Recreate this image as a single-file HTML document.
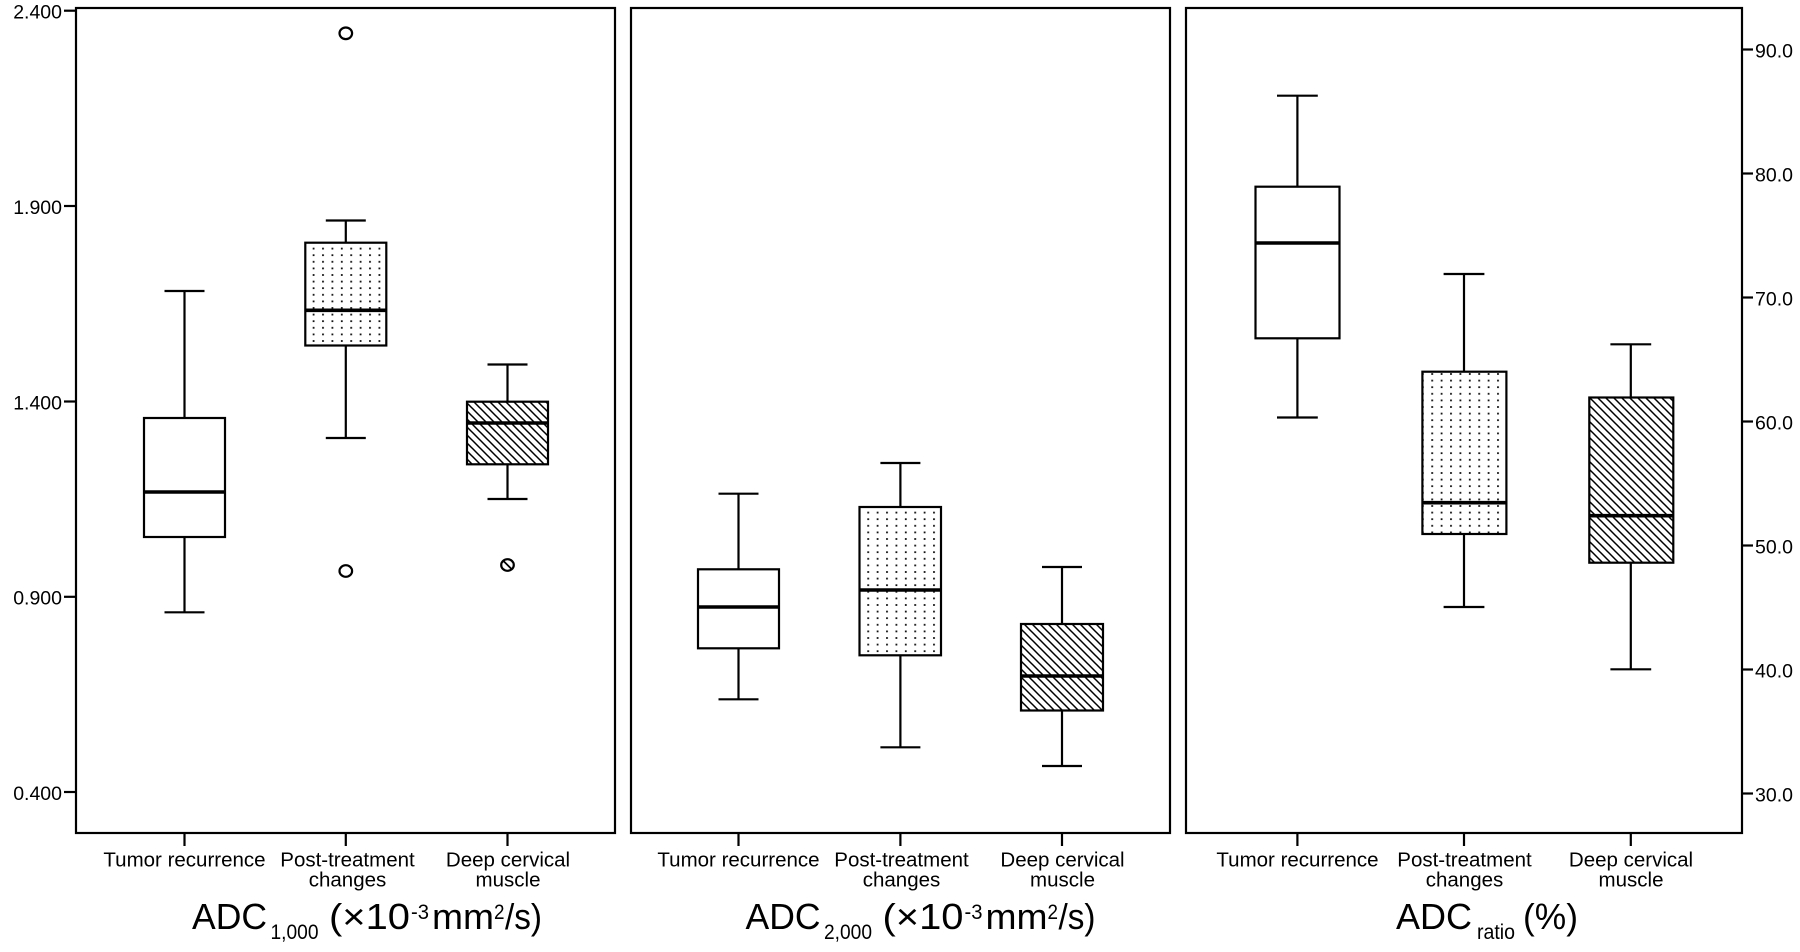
<!DOCTYPE html>
<html>
<head>
<meta charset="utf-8">
<style>
  html, body { margin: 0; padding: 0; background: #ffffff; }
  svg { display: block; }
  text { font-family: "Liberation Sans", Arial, sans-serif; fill: #000; }
</style>
</head>
<body>
<svg width="1800" height="952" viewBox="0 0 1800 952" xmlns="http://www.w3.org/2000/svg">
  <defs>
    <pattern id="dots" patternUnits="userSpaceOnUse" width="9.4" height="6.6" x="1" y="2">
      <rect x="1.5" y="1.5" width="1.8" height="1.8" fill="#111"/>
    </pattern>
    <pattern id="hatch" patternUnits="userSpaceOnUse" width="8" height="8">
      <path d="M-1,-1 L9,9 M-1,7 L1,9 M7,-1 L9,1" stroke="#000" stroke-width="1.5" fill="none"/>
    </pattern>
  </defs>
  <rect x="0" y="0" width="1800" height="952" fill="#fff"/>

  <g stroke="#000" stroke-width="2.2" fill="none">
    <!-- panel borders -->
    <rect x="76" y="8" width="539" height="825"/>
    <rect x="631" y="8" width="539" height="825"/>
    <rect x="1186" y="8" width="556" height="825"/>

    <!-- left ticks -->
    <line x1="64" y1="10.7" x2="76" y2="10.7"/>
    <line x1="64" y1="206" x2="76" y2="206"/>
    <line x1="64" y1="401.5" x2="76" y2="401.5"/>
    <line x1="64" y1="596.8" x2="76" y2="596.8"/>
    <line x1="64" y1="792" x2="76" y2="792"/>

    <!-- right ticks -->
    <line x1="1742" y1="49.5" x2="1753" y2="49.5"/>
    <line x1="1742" y1="173.5" x2="1753" y2="173.5"/>
    <line x1="1742" y1="297.5" x2="1753" y2="297.5"/>
    <line x1="1742" y1="421.5" x2="1753" y2="421.5"/>
    <line x1="1742" y1="545.5" x2="1753" y2="545.5"/>
    <line x1="1742" y1="669.5" x2="1753" y2="669.5"/>
    <line x1="1742" y1="793.5" x2="1753" y2="793.5"/>

    <!-- x ticks -->
    <line x1="184.5" y1="833" x2="184.5" y2="846"/>
    <line x1="345.8" y1="833" x2="345.8" y2="846"/>
    <line x1="507.5" y1="833" x2="507.5" y2="846"/>
    <line x1="738.5" y1="833" x2="738.5" y2="846"/>
    <line x1="900.4" y1="833" x2="900.4" y2="846"/>
    <line x1="1062" y1="833" x2="1062" y2="846"/>
    <line x1="1297.4" y1="833" x2="1297.4" y2="846"/>
    <line x1="1464" y1="833" x2="1464" y2="846"/>
    <line x1="1630.8" y1="833" x2="1630.8" y2="846"/>
  </g>

  <!-- ===== Panel 1 ===== -->
  <g stroke="#000" stroke-width="2.2" fill="none">
    <line x1="184.5" y1="291" x2="184.5" y2="418"/>
    <line x1="164.5" y1="291" x2="204.5" y2="291"/>
    <line x1="184.5" y1="537" x2="184.5" y2="612.3"/>
    <line x1="164.5" y1="612.3" x2="204.5" y2="612.3"/>
    <rect x="144" y="418" width="81" height="119" fill="#fff"/>
    <line x1="144" y1="492" x2="225" y2="492" stroke-width="3.6"/>

    <line x1="345.8" y1="220.5" x2="345.8" y2="242.7"/>
    <line x1="325.8" y1="220.5" x2="365.8" y2="220.5"/>
    <line x1="345.8" y1="345.5" x2="345.8" y2="438"/>
    <line x1="325.8" y1="438" x2="365.8" y2="438"/>
    <rect x="305.3" y="242.7" width="81" height="102.8" fill="url(#dots)"/>
    <line x1="305.3" y1="310.3" x2="386.3" y2="310.3" stroke-width="3.6"/>
    <ellipse cx="345.8" cy="33.3" rx="6.3" ry="5.8"/>
    <ellipse cx="345.8" cy="571" rx="6.3" ry="5.8"/>

    <line x1="507.5" y1="364.5" x2="507.5" y2="401.7"/>
    <line x1="487.5" y1="364.5" x2="527.5" y2="364.5"/>
    <line x1="507.5" y1="464.3" x2="507.5" y2="499"/>
    <line x1="487.5" y1="499" x2="527.5" y2="499"/>
    <rect x="467" y="401.7" width="81" height="62.6" fill="url(#hatch)"/>
    <line x1="467" y1="423" x2="548" y2="423" stroke-width="3.6"/>
    <ellipse cx="507.5" cy="565" rx="6.3" ry="5.8"/>
    <line x1="503.5" y1="561" x2="511.5" y2="569" stroke-width="1.8"/>
  </g>

  <!-- ===== Panel 2 ===== -->
  <g stroke="#000" stroke-width="2.2" fill="none">
    <line x1="738.5" y1="493.7" x2="738.5" y2="569.3"/>
    <line x1="718.5" y1="493.7" x2="758.5" y2="493.7"/>
    <line x1="738.5" y1="648.3" x2="738.5" y2="699.3"/>
    <line x1="718.5" y1="699.3" x2="758.5" y2="699.3"/>
    <rect x="698" y="569.3" width="81" height="79" fill="#fff"/>
    <line x1="698" y1="607" x2="779" y2="607" stroke-width="3.6"/>

    <line x1="900.4" y1="463" x2="900.4" y2="507"/>
    <line x1="880.4" y1="463" x2="920.4" y2="463"/>
    <line x1="900.4" y1="655.3" x2="900.4" y2="747.3"/>
    <line x1="880.4" y1="747.3" x2="920.4" y2="747.3"/>
    <rect x="859.5" y="507" width="81.5" height="148.3" fill="url(#dots)"/>
    <line x1="859.5" y1="590" x2="941" y2="590" stroke-width="3.6"/>

    <line x1="1062" y1="567" x2="1062" y2="624"/>
    <line x1="1042" y1="567" x2="1082" y2="567"/>
    <line x1="1062" y1="710.5" x2="1062" y2="766"/>
    <line x1="1042" y1="766" x2="1082" y2="766"/>
    <rect x="1021" y="624" width="82" height="86.5" fill="url(#hatch)"/>
    <line x1="1021" y1="676" x2="1103" y2="676" stroke-width="3.6"/>
  </g>

  <!-- ===== Panel 3 ===== -->
  <g stroke="#000" stroke-width="2.2" fill="none">
    <line x1="1297.4" y1="95.7" x2="1297.4" y2="186.7"/>
    <line x1="1277" y1="95.7" x2="1317.8" y2="95.7"/>
    <line x1="1297.4" y1="338.3" x2="1297.4" y2="417.5"/>
    <line x1="1277" y1="417.5" x2="1317.8" y2="417.5"/>
    <rect x="1255.5" y="186.7" width="84" height="151.6" fill="#fff"/>
    <line x1="1255.5" y1="243" x2="1339.5" y2="243" stroke-width="3.6"/>

    <line x1="1464" y1="274" x2="1464" y2="371.7"/>
    <line x1="1443.6" y1="274" x2="1484.4" y2="274"/>
    <line x1="1464" y1="534" x2="1464" y2="607"/>
    <line x1="1443.6" y1="607" x2="1484.4" y2="607"/>
    <rect x="1422.4" y="371.7" width="84" height="162.3" fill="url(#dots)"/>
    <line x1="1422.4" y1="502.7" x2="1506.4" y2="502.7" stroke-width="3.6"/>

    <line x1="1630.8" y1="344.3" x2="1630.8" y2="397.5"/>
    <line x1="1610.4" y1="344.3" x2="1651.2" y2="344.3"/>
    <line x1="1630.8" y1="562.7" x2="1630.8" y2="669.3"/>
    <line x1="1610.4" y1="669.3" x2="1651.2" y2="669.3"/>
    <rect x="1589.3" y="397.5" width="84" height="165.2" fill="url(#hatch)"/>
    <line x1="1589.3" y1="515.7" x2="1673.3" y2="515.7" stroke-width="3.6"/>
  </g>

  <!-- left tick labels -->
  <g font-size="19.5" text-anchor="end">
    <text x="62" y="18.5">2.400</text>
    <text x="62" y="213.8">1.900</text>
    <text x="62" y="409.3">1.400</text>
    <text x="62" y="604.6">0.900</text>
    <text x="62" y="799.8">0.400</text>
  </g>

  <!-- right tick labels -->
  <g font-size="19.5" text-anchor="start">
    <text x="1755" y="57.5">90.0</text>
    <text x="1755" y="181.5">80.0</text>
    <text x="1755" y="305.5">70.0</text>
    <text x="1755" y="429.5">60.0</text>
    <text x="1755" y="553.5">50.0</text>
    <text x="1755" y="677.5">40.0</text>
    <text x="1755" y="801.5">30.0</text>
  </g>

  <!-- category labels -->
  <g font-size="20.5" text-anchor="middle">
    <text x="184.5" y="866.5">Tumor recurrence</text>
    <text x="347.5" y="866.5">Post-treatment</text>
    <text x="347.5" y="886.5">changes</text>
    <text x="508" y="866.5">Deep cervical</text>
    <text x="508" y="886.5">muscle</text>

    <text x="738.5" y="866.5">Tumor recurrence</text>
    <text x="901.5" y="866.5">Post-treatment</text>
    <text x="901.5" y="886.5">changes</text>
    <text x="1062.5" y="866.5">Deep cervical</text>
    <text x="1062.5" y="886.5">muscle</text>

    <text x="1297.5" y="866.5">Tumor recurrence</text>
    <text x="1464.5" y="866.5">Post-treatment</text>
    <text x="1464.5" y="886.5">changes</text>
    <text x="1631" y="866.5">Deep cervical</text>
    <text x="1631" y="886.5">muscle</text>
  </g>

  <!-- Titles -->
  <g>
    <text x="192" y="929" font-size="36" textLength="75" lengthAdjust="spacingAndGlyphs">ADC</text>
    <text x="270.5" y="939" font-size="21" textLength="48" lengthAdjust="spacingAndGlyphs">1,000</text>
    <text x="329" y="929" font-size="36" textLength="81" lengthAdjust="spacingAndGlyphs">(×10</text>
    <text x="411" y="919" font-size="21" textLength="18" lengthAdjust="spacingAndGlyphs">-3</text>
    <text x="432" y="929" font-size="36" textLength="62" lengthAdjust="spacingAndGlyphs">mm</text>
    <text x="494" y="919" font-size="21" textLength="10.5" lengthAdjust="spacingAndGlyphs">2</text>
    <text x="505" y="929" font-size="36" textLength="37" lengthAdjust="spacingAndGlyphs">/s)</text>

    <text x="745.5" y="929" font-size="36" textLength="75" lengthAdjust="spacingAndGlyphs">ADC</text>
    <text x="824" y="939" font-size="21" textLength="48" lengthAdjust="spacingAndGlyphs">2,000</text>
    <text x="882.5" y="929" font-size="36" textLength="81" lengthAdjust="spacingAndGlyphs">(×10</text>
    <text x="964.5" y="919" font-size="21" textLength="18" lengthAdjust="spacingAndGlyphs">-3</text>
    <text x="985.5" y="929" font-size="36" textLength="62" lengthAdjust="spacingAndGlyphs">mm</text>
    <text x="1047.5" y="919" font-size="21" textLength="10.5" lengthAdjust="spacingAndGlyphs">2</text>
    <text x="1058.5" y="929" font-size="36" textLength="37" lengthAdjust="spacingAndGlyphs">/s)</text>

    <text x="1396" y="929" font-size="36" textLength="76" lengthAdjust="spacingAndGlyphs">ADC</text>
    <text x="1477" y="939" font-size="21" textLength="38" lengthAdjust="spacingAndGlyphs">ratio</text>
    <text x="1523" y="929" font-size="36" textLength="55" lengthAdjust="spacingAndGlyphs">(%)</text>
  </g>
</svg>
</body>
</html>
